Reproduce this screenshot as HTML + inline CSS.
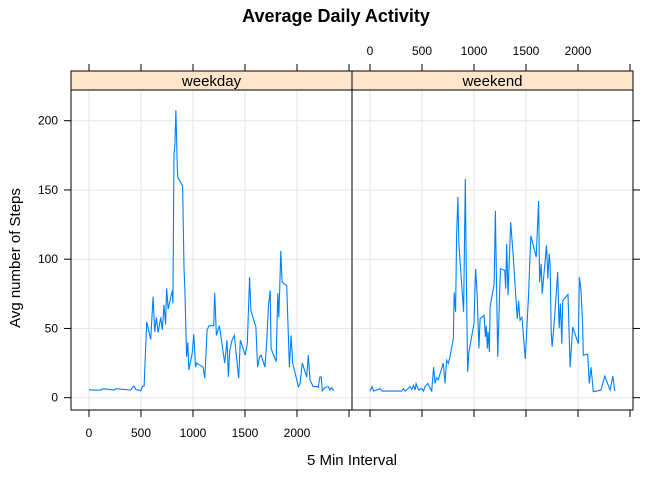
<!DOCTYPE html>
<html><head><meta charset="utf-8"><style>
html,body{margin:0;padding:0;background:#fff;}
svg{display:block;font-family:"Liberation Sans",sans-serif;}
</style></head><body>
<svg id="chart" width="672" height="480" viewBox="0 0 672 480">
<text x="336" y="22" text-anchor="middle" font-size="18" font-weight="bold">Average Daily Activity</text>
<g id="grid"></g>
<g id="series"></g>
<g id="frames"></g>
<g id="axes"></g>
<text x="352" y="465" text-anchor="middle" font-size="15">5 Min Interval</text>
<text transform="translate(20,258) rotate(-90)" text-anchor="middle" font-size="15">Avg number of Steps</text>
</svg>
<script>
const xTicks = [0, 500, 1000, 1500, 2000];
const xTickMarks = [0, 500, 1000, 1500, 2000, 2500];
const yTicks = [0, 50, 100, 150, 200];
const panels = ["weekday", "weekend"];
const weekdayX = [0,19,115,131,242,258,402,418,434,450,498,514,530,555,593,616,632,648,664,689,705,721,737,746,762,801,807,817,826,836,849,855,900,913,922,938,951,960,992,1008,1024,1034,1097,1113,1136,1155,1199,1209,1225,1254,1305,1327,1340,1353,1375,1397,1439,1455,1502,1522,1544,1557,1605,1621,1640,1656,1691,1710,1726,1742,1751,1799,1815,1825,1837,1844,1857,1901,1927,1943,1959,2013,2029,2051,2093,2109,2125,2156,2188,2204,2220,2233,2243,2268,2300,2316,2332,2348,2354];
const weekdayY = [6,5.5,5.5,6.5,5.5,6.5,5.5,7.4,8.4,6,5,8.4,8.4,54.7,42,73,47.5,58,47,58,49,67,53,79,64,77.5,68,176,182,207.6,166,159,153,94,77.5,29.5,40,20,32,46,22,25,22,14,49,52,52,75.6,45,52,25,41.5,15,34,41.5,45,14,41.5,30.7,39,87,63,51,22,29.5,30.7,22,41.5,67,77.5,35.5,26,75.6,58,86,106,83.5,81,22,45,25,8,10,25,15,30.7,12.7,8,8,7.4,15,15,5,7.4,8,5.5,7.4,5.5,6];
const weekendX = [0,19,35,99,115,306,322,338,386,402,418,434,443,466,498,514,530,555,593,612,625,641,657,705,721,737,753,769,801,810,823,833,845,855,900,916,925,938,951,1000,1015,1031,1047,1059,1097,1110,1117,1129,1136,1148,1155,1193,1206,1209,1228,1254,1295,1305,1314,1327,1353,1378,1397,1416,1429,1442,1461,1493,1525,1538,1547,1598,1621,1631,1646,1656,1697,1710,1723,1732,1742,1751,1774,1805,1818,1831,1844,1853,1904,1924,1949,2003,2013,2029,2045,2051,2093,2109,2125,2147,2220,2258,2309,2335,2354];
const weekendY = [4.8,8,4.8,6.5,4.8,4.8,6.5,4.8,8,6,9,5.5,10,5.5,6.7,4.8,8,10.3,4.8,22,10.3,14.4,13,25,10.3,27,24.7,29.5,42.7,76,62,117,145,111,62,158,97,18.7,33,53.5,93,74,35.5,57,59.5,44,52,35.5,47.5,33,65.5,82,135,119.5,29.5,93,92,78.7,111,74,126.7,101.5,78.7,57,70,56,58,28,75,102.7,117,101.5,142,83.5,96.7,75,110,86,104,96.7,47.5,36.7,57,90.7,50,68,39,70,74.6,22,51,39,87,77.5,51,30.7,31.4,10.3,22,4.3,5.5,15.6,5.5,15.6,4.8];

const NS = "http://www.w3.org/2000/svg";
const PL = [71, 352], PW = 281, PT = 90, PB = 410, ST = 71;
function xs(v, p) { return PL[p] + 18 + v * 0.104; }
function ys(v) { return 397.7 - v * 1.385; }
function mk(tag, attrs, parent) {
  const e = document.createElementNS(NS, tag);
  for (const k in attrs) e.setAttribute(k, attrs[k]);
  parent.appendChild(e); return e;
}
const grid = document.getElementById('grid'), series = document.getElementById('series'),
      frames = document.getElementById('frames'), axes = document.getElementById('axes');
for (let p = 0; p < 2; p++) {
  for (const t of xTicks) {
    const g = mk('line', {x1: xs(t,p), x2: xs(t,p), y1: PT, y2: PB, stroke: '#e6e6e6', 'stroke-width': 1}, grid);
    
    
  }
  for (const t of yTicks) {
    const g = mk('line', {x1: PL[p], x2: PL[p] + PW, y1: ys(t), y2: ys(t), stroke: '#e6e6e6', 'stroke-width': 1}, grid);
    
    
  }
  const X = p === 0 ? weekdayX : weekendX, Y = p === 0 ? weekdayY : weekendY;
  const pts = X.map((x, i) => xs(x, p).toFixed(1) + ',' + ys(Y[i]).toFixed(1)).join(' ');
  const pl = mk('polyline', {points: pts, fill: 'none', stroke: '#0080ff', 'stroke-width': 1.1}, series);
  
  
  const st = mk('rect', {x: PL[p], y: ST, width: PW, height: PT - ST, fill: '#ffe5cc', stroke: '#000', 'stroke-width': 1}, frames);
  
  
  const sl = mk('text', {x: PL[p] + PW / 2, y: 86, 'text-anchor': 'middle', 'font-size': 15}, frames);
  sl.textContent = panels[p];
  
  
  const fr = mk('rect', {x: PL[p], y: ST, width: PW, height: PB - ST, fill: 'none', stroke: '#000', 'stroke-width': 1}, frames);
  
  
  for (const t of xTickMarks) {
    const y1 = p === 0 ? ST - 8 : ST - 8;
    const tk = mk('line', {x1: xs(t,p), x2: xs(t,p), y1: ST, y2: ST - 7, stroke: '#000'}, axes);
    
    
    const bk = mk('line', {x1: xs(t,p), x2: xs(t,p), y1: PB, y2: PB + 7, stroke: '#000'}, axes);
    
    
  }
  for (const t of xTicks) {
    const lb = mk('text', {x: xs(t,p), y: p === 0 ? 437 : 55, 'text-anchor': 'middle', 'font-size': 12}, axes);
    lb.textContent = t;
    
    
  }
}
for (const t of yTicks) {
  const lt = mk('line', {x1: PL[0] - 7, x2: PL[0], y1: ys(t), y2: ys(t), stroke: '#000'}, axes);
  
  
  const rt = mk('line', {x1: PL[1] + PW, x2: PL[1] + PW + 7, y1: ys(t), y2: ys(t), stroke: '#000'}, axes);
  
  
  const lb = mk('text', {x: 58, y: ys(t) + 4, 'text-anchor': 'end', 'font-size': 12}, axes);
  lb.textContent = t;
  
  
}
</script>
</body></html>
